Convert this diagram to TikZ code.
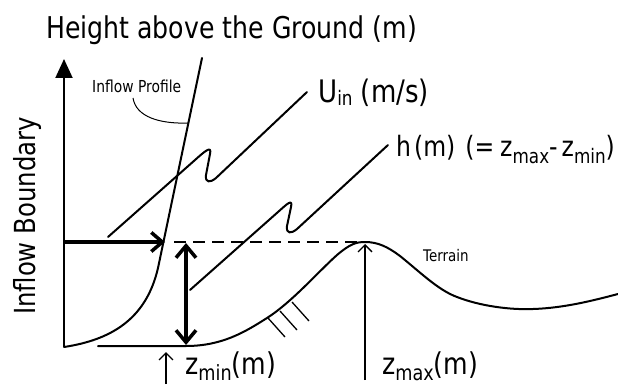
\documentclass[tikz,border=0pt]{standalone}
\usepackage{fontspec}
\setmainfont{DejaVu Sans}[FakeStretch=0.84]
\usetikzlibrary{arrows.meta}
\newcommand\fs[1]{\fontsize{#1}{#1}\selectfont}
% lowered subscript: #1 lowering, #2 size, #3 text
\newcommand\lsub[3]{\raisebox{-#1em}{\fontsize{#2}{#2}\selectfont #3}}
\begin{document}
\begin{tikzpicture}[x=1pt,y=-1pt,
  mainline/.style={line width=2pt, line cap=round, line join=round},
  boldarrow/.style={line width=3.8pt, -{Straight Barb[length=11pt,width=19pt,line width=3.5pt]}},
  bolddouble/.style={line width=3.8pt, {Straight Barb[length=12pt,width=20pt,line width=3.5pt]}-{Straight Barb[length=12pt,width=20pt,line width=3.5pt]}},
  thinarrow/.style={line width=1.3pt, -{Straight Barb[length=7pt,width=14pt,line width=1.3pt]}},
  txt/.style={inner sep=0pt}]
\useasboundingbox (0,0) rectangle (618,385);
\fill[white] (0,0) rectangle (618,385);

% title and axis label
\node[txt, font=\fs{30}, anchor=base west] (title) at (46,39) {Height above the Ground (m)};
\node[txt, font=\fs{29}, rotate=90, anchor=base] (inflowb) at (35,216) {Inflow Boundary};

% vertical axis
\coordinate (axbot) at (64,347);
\coordinate (axtop) at (64,59);
\draw[line width=2pt, -{Triangle[length=19pt,width=17pt]}] (axbot) -- (axtop);

% inflow profile
\coordinate (proftop) at (202,58);
\coordinate (profknee) at (158,268);
\coordinate (profmark) at (188,123);
\draw[mainline] (axbot) .. controls (110,340) and (146,320) .. (profknee) -- (proftop);
\node[txt, font=\fs{16.5}, anchor=base west] (ipl) at (92,93) {Inflow Profile};
\draw[line width=1pt] (133,98) .. controls (136,117) and (160,124) .. (profmark);

% inflow arrow and dashed level
\coordinate (arrS) at (64,242);
\coordinate (arrE) at (165,242);
\draw[boldarrow] (arrS) -- (arrE);
\coordinate (peak) at (365,242);
\coordinate (dashS) at (174,242);
\draw[line width=2pt, dash pattern=on 12pt off 7pt] (dashS) -- (peak);

% terrain
\coordinate (flatS) at (98,346);
\draw[mainline] (flatS) -- (186,346)
  .. controls (222,346) and (245,332) .. (267,318)
  .. controls (292,302) and (318,272) .. (337,255)
  .. controls (350,244) and (356,242) .. (peak)
  .. controls (378,242) and (388,247) .. (400,256)
  .. controls (420,272) and (438,290) .. (457,297)
  .. controls (480,306) and (510,310) .. (533,309)
  .. controls (565,308) and (595,300) .. (618,294);
\node[txt, font=\fs{16}, anchor=base west] (terr) at (423,261) {Terrain};

% hatch
\foreach \p in {(268,318),(280,311),(292,302)}
  \draw[line width=1.3pt] \p -- ++(17,19);

% height double arrow
\coordinate (hT) at (186,243);
\coordinate (hB) at (186,345);
\draw[bolddouble] (hB) -- (hT);

% zmin / zmax
\coordinate (zminB) at (166,384);
\coordinate (zminT) at (166,352);
\draw[thinarrow] (zminB) -- (zminT);
\node[txt, font=\fs{30}, anchor=base west] (zmin) at (185,374) {z\lsub{0.2}{21}{min}(m)};
\coordinate (zmaxB) at (365,380);
\coordinate (zmaxT) at (365,244);
\draw[thinarrow] (zmaxB) -- (zmaxT);
\node[txt, font=\fs{30}, anchor=base west] (zmax) at (382,374) {z\lsub{0.2}{21}{max}(m)};

% U_in zigzag
\coordinate (uS) at (108,237);
\coordinate (uE) at (307,92);
\draw[mainline] (uS) -- (195,160) .. controls (205,151) and (212,145) .. (210,154)
  -- (206,175) .. controls (205,183) and (210,183) .. (216,178) -- (uE);
\node[txt, font=\fs{31}, anchor=base west] (uin) at (318,103) {U\lsub{0.08}{20}{in} (m/s)};

% h zigzag
\coordinate (hS) at (190,290);
\coordinate (hE) at (388,145);
\draw[mainline] (hS) -- (278,212) .. controls (287,204) and (293,198) .. (291,207)
  -- (287,226) .. controls (286,234) and (291,234) .. (297,229) -- (hE);
\node[txt, font=\fs{28}, anchor=base west] (hl) at (396,157) {h\hspace{3pt}(m)\hspace{10pt}(=\hspace{6pt}z\lsub{0.22}{20}{max}-\hspace{4pt}z\lsub{0.22}{20}{min})};
\end{tikzpicture}
\end{document}
